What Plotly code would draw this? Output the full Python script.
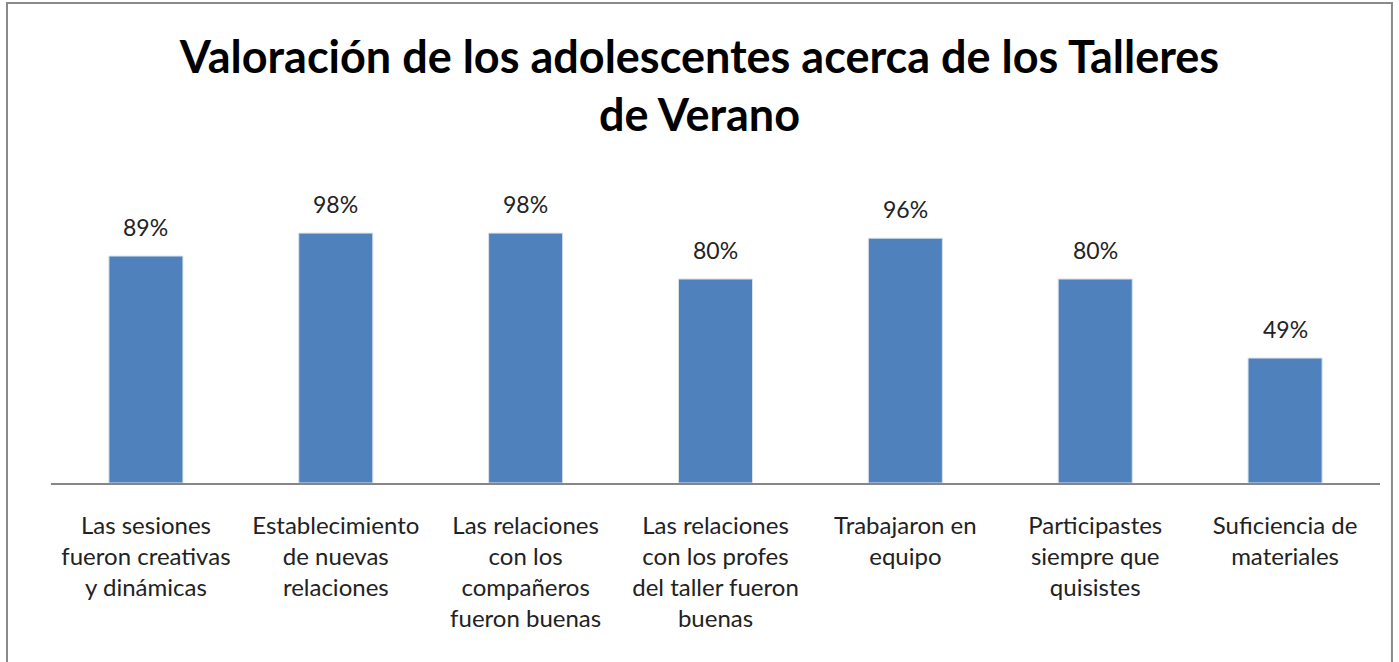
import plotly.graph_objects as go

categories = [
    "Las sesiones<br>fueron creativas<br>y dinámicas",
    "Establecimiento<br>de nuevas<br>relaciones",
    "Las relaciones<br>con los<br>compañeros<br>fueron buenas",
    "Las relaciones<br>con los profes<br>del taller fueron<br>buenas",
    "Trabajaron en<br>equipo",
    "Participastes<br>siempre que<br>quisistes",
    "Suficiencia de<br>materiales",
]
values = [0.89, 0.98, 0.98, 0.80, 0.96, 0.80, 0.49]
value_labels = ["89%", "98%", "98%", "80%", "96%", "80%", "49%"]

FONT = "Lato, 'Open Sans', sans-serif"

fig = go.Figure()
fig.add_trace(go.Bar(
    x=categories,
    y=values,
    width=0.39,
    marker=dict(color="#4F81BD", line=dict(color="#d9e1ea", width=1)),
    hoverinfo="skip",
))

for cat, val, lab in zip(categories, values, value_labels):
    fig.add_annotation(
        x=cat, y=val, text=lab, showarrow=False,
        yanchor="bottom", yshift=13,
        font=dict(family=FONT, size=23, color="#222222"),
    )

fig.update_layout(
    width=1399,
    height=662,
    paper_bgcolor="white",
    plot_bgcolor="white",
    showlegend=False,
    margin=dict(l=51, r=19, t=177, b=179),
    title=dict(
        text="<b>Valoración de los adolescentes acerca de los Talleres<br>de Verano</b>",
        x=0.5, xanchor="center", y=0.89, yanchor="top",
        font=dict(family=FONT, size=45, color="#000000"),
    ),
    xaxis=dict(
        showline=True, linecolor="#868686", linewidth=1.5,
        showgrid=False, ticks="outside", ticklen=20, tickcolor="rgba(0,0,0,0)",
        tickfont=dict(family=FONT, size=24, color="#222222"),
        tickangle=0,
    ),
    yaxis=dict(range=[0, 1.2], visible=False, showgrid=False),
    shapes=[dict(
        type="rect", xref="paper", yref="paper",
        x0=-0.0331, x1=1.0090, y0=-1.0, y1=1.569,
        line=dict(color="#8a8a8a", width=2),
    )],
)

# drop the page's default body margin so the figure sits at (0, 0)
fig.write_html(
    "out.html",
    config={"displayModeBar": False},
    post_script="document.body.style.margin='0';",
)
